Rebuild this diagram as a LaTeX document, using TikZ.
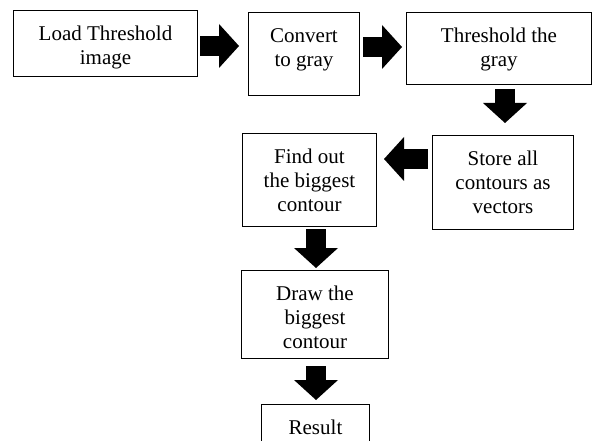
\documentclass[tikz,border=0pt]{standalone}
\usepackage{fontspec}
\setmainfont{Liberation Serif}
\usetikzlibrary{arrows.meta}
\newcommand{\boxtext}[3]{\parbox[c][#2][t]{#1}{\centering\rule{0pt}{30pt}#3}}

\begin{document}
\begin{tikzpicture}
    [x=1pt, y=-1pt,
    % Process stages
    stage/.style={rectangle, draw=black, line width=1pt, inner sep=0pt, anchor=north west, font=\fontsize{21}{24}\selectfont},
    % Block arrows between stages
    blockarrow/.style={draw, line width=20pt, -{Triangle[width=44pt, length=20pt, line width=0pt]}}]
    \useasboundingbox (0,0) rectangle (592,441);
    % Top row
    \node [stage] (load)    at (13,10)   {\boxtext{184pt}{66pt}{Load Threshold\\image}};
    \node [stage] (convert) at (248,12)  {\boxtext{111pt}{83pt}{Convert\\to gray}};
    \node [stage] (thresh)  at (406,12)  {\boxtext{185pt}{72pt}{Threshold the\\gray}};
    % Contour stages
    \node [stage] (store)   at (432,135) {\boxtext{141pt}{94pt}{Store all\\contours as\\vectors}};
    \node [stage] (find)    at (242,133) {\boxtext{134pt}{93pt}{Find out\\the biggest\\contour}};
    % Output
    \node [stage] (draw)    at (241,270) {\boxtext{147pt}{88pt}{Draw the\\biggest\\contour}};
    \node [stage] (result)  at (261,404) {\boxtext{108pt}{50pt}{Result}};
    % Arrows
    \draw [blockarrow, shorten <=2pt, shorten >=9pt] (load.east |- 0,46) -- (convert.west |- 0,46);
    \draw [blockarrow, shorten <=3pt, shorten >=4pt] (convert.east |- 0,47) -- (thresh.west |- 0,47);
    \draw [blockarrow, shorten <=4pt, shorten >=12pt] (thresh.south -| 505,0) -- (store.north -| 505,0);
    \draw [blockarrow, shorten <=4pt, shorten >=7pt] (store.west |- 0,159) -- (find.east |- 0,159);
    \draw [blockarrow, shorten <=2pt, shorten >=2pt] (find.south -| 316,0) -- (draw.north -| 316,0);
    \draw [blockarrow, shorten <=7pt, shorten >=4pt] (draw.south -| 316,0) -- (result.north -| 316,0);
\end{tikzpicture}
\end{document}
